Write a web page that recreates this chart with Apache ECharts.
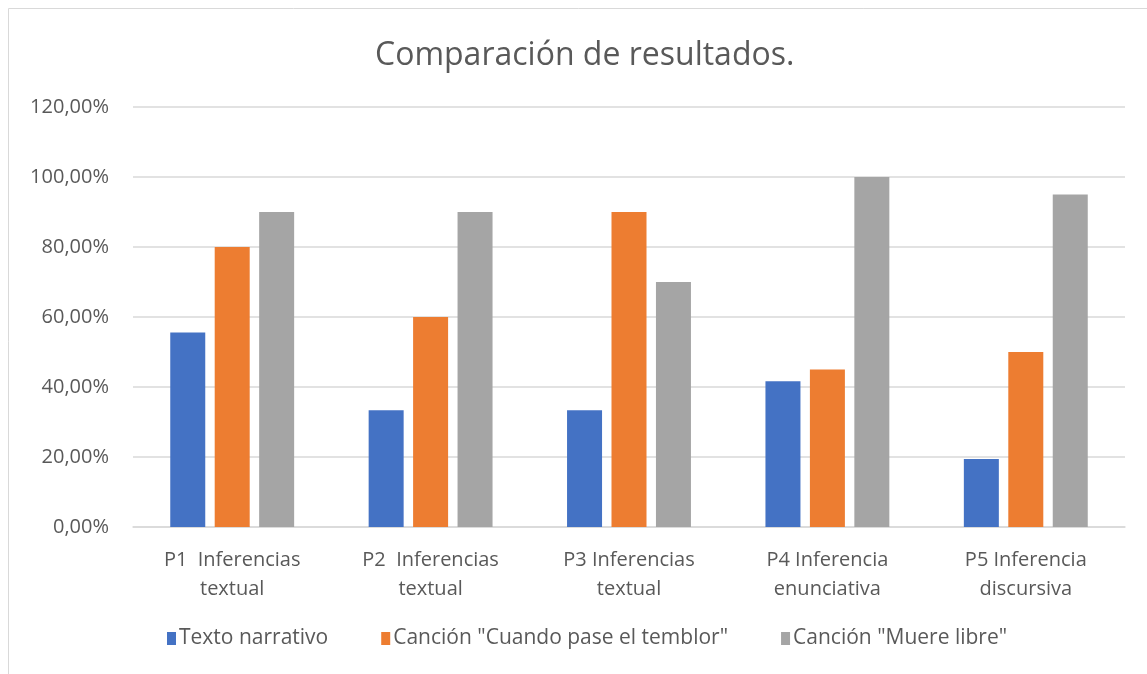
<!DOCTYPE html>
<html>
<head>
<meta charset="utf-8">
<script src="https://cdn.jsdelivr.net/npm/echarts@6/dist/echarts.min.js"></script>
<style>
  html, body { margin: 0; padding: 0; background: #fff; }
  #main { width: 1147px; height: 674px; }
</style>
</head>
<body>
<div id="main"></div>
<script>
// datos del gráfico
var categorias = ['P1  Inferencias\ntextual', 'P2  Inferencias\ntextual', 'P3 Inferencias\ntextual', 'P4 Inferencia\nenunciativa', 'P5 Inferencia\ndiscursiva'];
var textoNarrativo = [55.56, 33.33, 33.33, 41.67, 19.44];
var cuandoPase = [80, 60, 90, 45, 50];
var muereLibre = [90, 90, 70, 100, 95];
var ticksY = [0, 20, 40, 60, 80, 100, 120];

var fuente = '"Open Sans", sans-serif';
var gris = '#595959';

var myChart = echarts.init(document.getElementById('main'));

var option = {
  animation: false,
  textStyle: { fontFamily: fuente },
  graphic: [{
    type: 'rect',
    shape: { x: 8.5, y: 8.5, width: 1200, height: 700 },
    style: { fill: 'none', stroke: '#d9d9d9', lineWidth: 1 },
    silent: true
  }],
  title: {
    text: 'Comparación de resultados.',
    left: 370,
    top: 35,
    textStyle: { fontFamily: fuente, fontWeight: 'normal', fontSize: 32, color: gris }
  },
  legend: {
    bottom: 20,
    left: 162,
    itemWidth: 9,
    itemHeight: 13,
    itemGap: 53,
    icon: 'rect',
    textStyle: { fontFamily: fuente, fontSize: 21, color: gris, padding: [0, 0, 0, -2] },
    data: ['Texto narrativo', 'Canción "Cuando pase el temblor"', 'Canción "Muere libre"']
  },
  grid: { left: 133, right: 22, top: 107, bottom: 147 },
  xAxis: {
    type: 'category',
    data: categorias,
    axisLine: { lineStyle: { color: '#d9d9d9', width: 1.5 } },
    axisTick: { show: false },
    axisLabel: { fontFamily: fuente, fontSize: 20, color: gris, lineHeight: 29, margin: 19, interval: 0 }
  },
  yAxis: {
    type: 'value',
    min: ticksY[0],
    max: ticksY[ticksY.length - 1],
    interval: 20,
    axisLine: { show: false },
    axisTick: { show: false },
    splitLine: { lineStyle: { color: '#d9d9d9', width: 1.5 } },
    axisLabel: {
      fontFamily: fuente, fontSize: 20, color: gris, margin: 24,
      formatter: function (v) { return v.toFixed(2).replace('.', ',') + '%'; }
    }
  },
  series: [
    { name: 'Texto narrativo', type: 'bar', data: textoNarrativo, barWidth: 35, barGap: '27%', itemStyle: { color: '#4472C4' } },
    { name: 'Canción "Cuando pase el temblor"', type: 'bar', data: cuandoPase, barWidth: 35, barGap: '27%', itemStyle: { color: '#ED7D31' } },
    { name: 'Canción "Muere libre"', type: 'bar', data: muereLibre, barWidth: 35, barGap: '27%', itemStyle: { color: '#A5A5A5' } }
  ]
};

myChart.setOption(option);

window.onresize = () => {
  myChart.resize()
}
</script>
</body>
</html>
